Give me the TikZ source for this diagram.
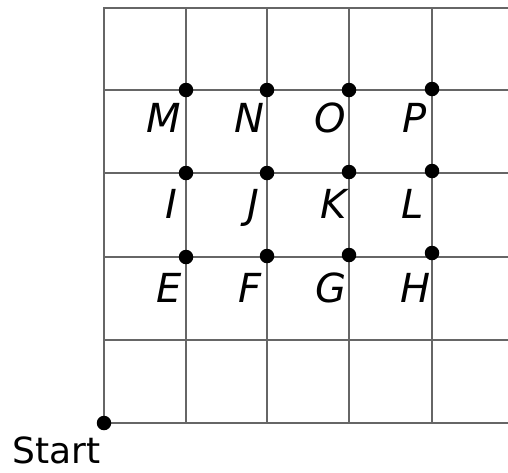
\documentclass[tikz,border=0pt]{standalone}
\usepackage{fontspec}
\newfontfamily\dejafont{DejaVu Sans}
\tikzset{
  gridline/.style={draw=black!60, line width=1.8pt},
  dot/.style={circle, fill=black, inner sep=0pt, minimum size=14.5pt},
  lbl/.style={font=\dejafont\itshape\fontsize{40}{40}\selectfont, inner sep=0pt, anchor=base east},
  startlbl/.style={font=\dejafont\fontsize{36}{36}\selectfont, inner sep=0pt, anchor=base west}
}
\begin{document}
\begin{tikzpicture}[x=1pt,y=-1pt]
\useasboundingbox (0,0) rectangle (508,472);
% grid
\foreach \xx in {104,186,267,349,432} \draw[gridline] (\xx,8) -- (\xx,423);
\foreach \yy in {8,90,173,257,340,423} \draw[gridline] (103,\yy) -- (508,\yy);
% dots
\node[dot] (M) at (186,90) {};
\node[dot] (N) at (267,90) {};
\node[dot] (O) at (349,90) {};
\node[dot] (P) at (432,89) {};
\node[dot] (I) at (186,173) {};
\node[dot] (J) at (267,173) {};
\node[dot] (K) at (349,172) {};
\node[dot] (L) at (432,171) {};
\node[dot] (E) at (186,257) {};
\node[dot] (F) at (267,256) {};
\node[dot] (G) at (349,255) {};
\node[dot] (H) at (432,253) {};
\node[dot] (S) at (104,423) {};
% labels
\node[lbl] (Mt) at (181,132) {M};
\node[lbl] (Nt) at (265,132) {N};
\node[lbl] (Ot) at (346,132) {O};
\node[lbl] (Pt) at (427,132) {P};
\node[lbl] (It) at (177,218) {I};
\node[lbl] (Jt) at (259,218) {J};
\node[lbl] (Kt) at (347,218) {K};
\node[lbl] (Lt) at (424,218) {L};
\node[lbl] (Et) at (182,302) {E};
\node[lbl] (Ft) at (262,302) {F};
\node[lbl] (Gt) at (347,302) {G};
\node[lbl] (Ht) at (431,302) {H};
\node[startlbl] (St) at (12,463) {Start};
\end{tikzpicture}
\end{document}
